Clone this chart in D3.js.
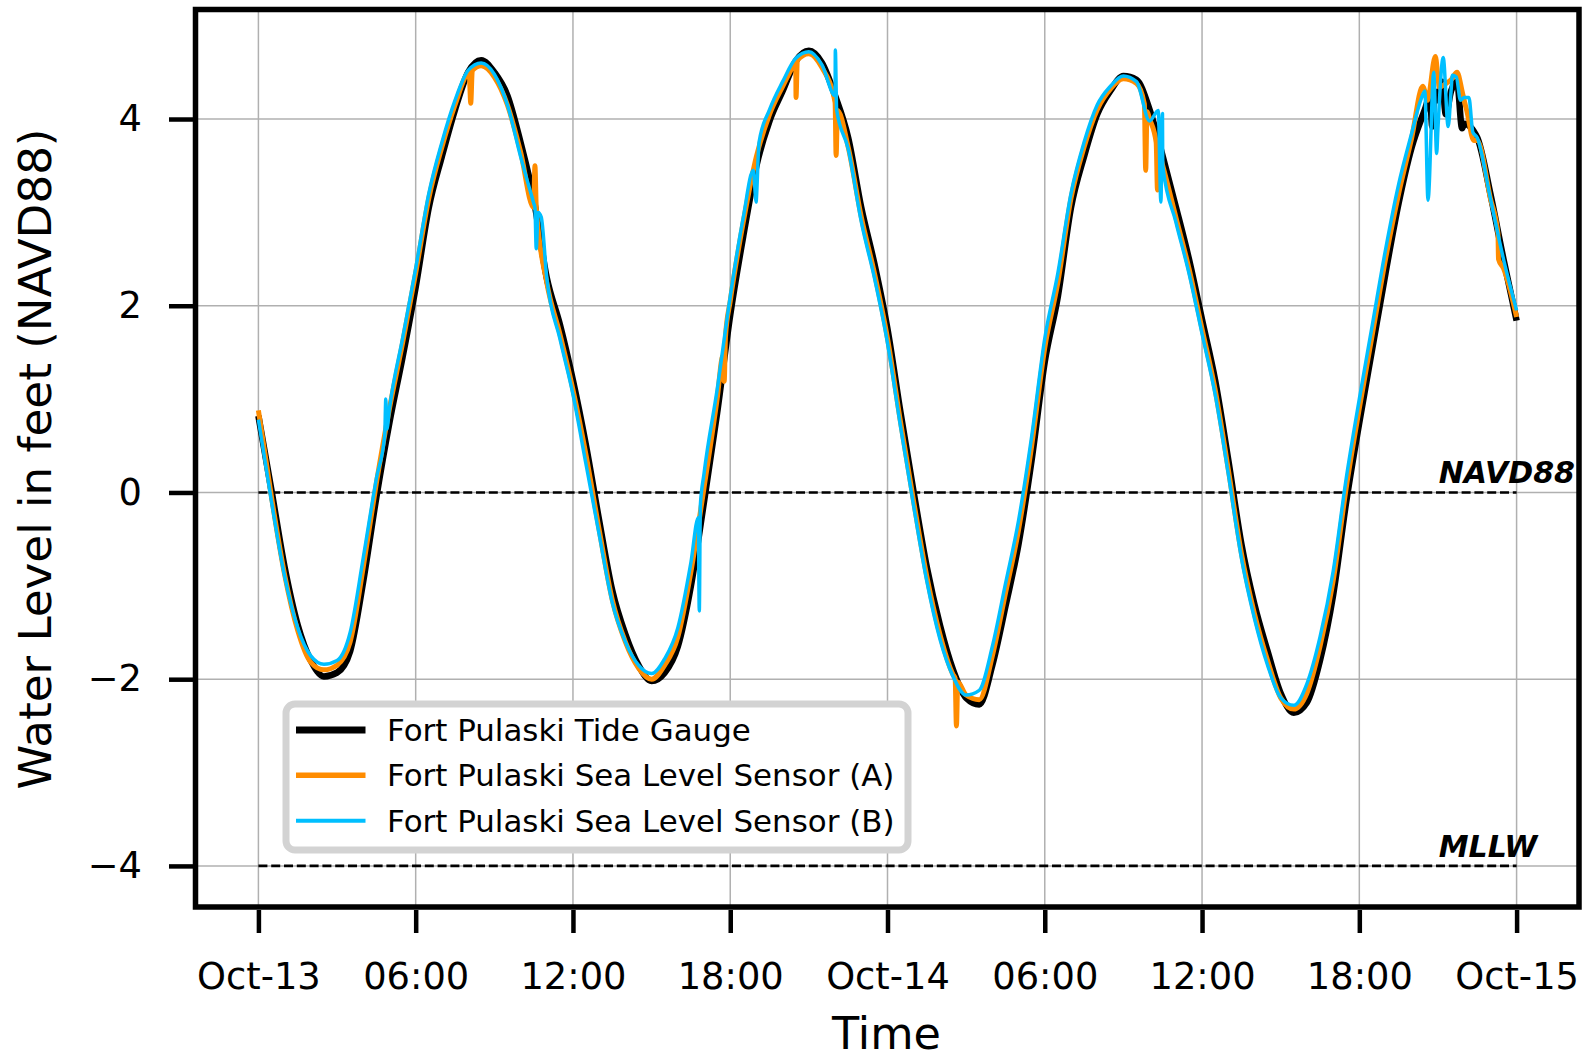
<!DOCTYPE html>
<html><head><meta charset="utf-8">
<script src="https://cdn.jsdelivr.net/npm/d3@7"></script>
<style>body{margin:0;background:#fff} svg{display:block} text{font-family:"DejaVu Sans",sans-serif}</style>
</head><body><svg id="c" width="1583" height="1061"></svg>
<script>
// hours since Oct-13 00:00
const hours = [0,0.5,1,1.5,2,2.5,3,3.5,4,4.5,5,5.5,6,6.5,7,7.5,8,8.5,9,9.5,10,10.5,11,11.5,12,12.5,13,13.5,14,14.5,15,15.5,16,16.5,17,17.5,18,18.5,19,19.5,20,20.5,21,21.5,22,22.5,23,23.5,24,24.5,25,25.5,26,26.5,27,27.5,28,28.5,29,29.5,30,30.5,31,31.5,32,32.5,33,33.5,34,34.5,35,35.5,36,36.5,37,37.5,38,38.5,39,39.5,40,40.5,41,41.5,42,42.5,43,43.5,44,44.5,45,45.5,46,46.5,47,47.5,48];
const gauge = [0.82,0.02,-0.8,-1.42,-1.8,-1.97,-1.93,-1.7,-0.95,-0.05,
 0.75,1.45,2.2,3.05,3.6,4.1,4.5,4.63,4.5,4.25,
 3.75,3.15,2.3,1.8,1.2,0.5,-0.3,-1.05,-1.52,-1.85,
 -2.02,-1.93,-1.65,-1.0,-0.1,0.85,1.9,2.75,3.5,3.98,
 4.3,4.62,4.73,4.6,4.25,3.8,3.05,2.45,1.75,0.85,
 0.0,-0.8,-1.42,-1.9,-2.2,-2.27,-1.85,-1.22,-0.55,0.35,
 1.4,2.1,3.05,3.6,4.05,4.3,4.46,4.42,4.1,3.6,
 3.06,2.5,1.85,1.2,0.35,-0.55,-1.2,-1.7,-2.15,-2.36,
 -2.25,-1.8,-1.1,-0.1,0.75,1.55,2.35,3.1,3.7,4.1,
 4.2,4.3,3.95,3.8,3.2,2.5,1.84];
const sensorA = [0.88,-0.05,-0.88,-1.48,-1.82,-1.9,-1.85,-1.6,-0.8,0.1,
 0.9,1.6,2.35,3.15,3.7,4.15,4.5,4.57,4.45,4.15,
 3.65,3.05,2.25,1.7,1.1,0.4,-0.4,-1.15,-1.6,-1.88,
 -2.0,-1.85,-1.55,-0.85,0.05,1.0,2.05,2.9,3.6,4.05,
 4.35,4.62,4.7,4.55,4.18,3.7,2.95,2.35,1.65,0.75,
 -0.1,-0.9,-1.52,-1.95,-2.17,-2.22,-1.75,-1.08,-0.4,0.5,
 1.55,2.25,3.15,3.7,4.1,4.32,4.43,4.38,4.0,3.5,
 2.95,2.4,1.75,1.1,0.25,-0.65,-1.3,-1.8,-2.2,-2.32,
 -2.15,-1.65,-0.95,0.05,0.9,1.7,2.5,3.2,3.8,4.3,
 4.45,4.42,4.2,3.77,3.15,2.4,1.88];
const sensorB = [0.78,-0.1,-0.9,-1.45,-1.75,-1.84,-1.8,-1.5,-0.7,0.15,
 0.9,1.65,2.4,3.2,3.75,4.2,4.52,4.6,4.48,4.15,
 3.6,3.1,2.3,1.65,1.05,0.3,-0.45,-1.18,-1.6,-1.85,
 -1.94,-1.78,-1.45,-0.75,0.2,1.1,2.1,2.95,3.15,4.1,
 4.4,4.65,4.72,4.58,4.25,3.68,2.9,2.3,1.6,0.7,
 -0.15,-0.95,-1.57,-1.97,-2.17,-2.12,-1.65,-0.98,-0.3,0.6,
 1.65,2.35,3.2,3.75,4.15,4.35,4.46,4.4,3.98,3.5,
 2.9,2.35,1.7,1.05,0.2,-0.7,-1.35,-1.85,-2.2,-2.28,
 -2.05,-1.55,-0.85,0.15,1.0,1.8,2.6,3.3,3.85,4.3,
 3.9,4.3,4.23,3.8,3.15,2.5,1.95];
// extra readings (spikes / noise) as [hour, value]
const gaugeExtra = [[44.7,4.25],[44.78,3.92],[44.86,4.3],[45.16,4.4],[45.3,4.05],[45.73,4.4],[45.92,3.9]];
const sensorAExtra = [[8.04,4.51],[8.1,4.17],[8.16,4.52],[10.55,3.5],[10.6,3.05],[17.72,1.46],[17.77,1.19],[17.82,1.67],[20.46,4.6],[20.51,4.23],[20.56,4.63],[22.04,3.61],[22.09,4.09],[26.58,-1.99],[26.63,-2.5],[26.68,-2.03],[33.8,4.16],[33.85,3.45],[33.9,4.08],[34.25,3.75],[34.3,3.24],[34.35,3.65],[44.42,4.35],[44.6,4.2],[44.9,4.67],[45.05,4.34],[45.3,4.38],[45.73,4.5],[45.92,4.3],[46.1,4.09],[46.37,3.77],[47.29,2.77],[47.31,2.5]];
const sensorBExtra = [[4.82,0.62],[4.86,1.0],[4.9,0.68],[10.55,3.05],[10.6,2.61],[10.67,3.0],[10.79,2.95],[16.78,-0.27],[16.82,-1.27],[16.86,-0.14],[18.88,3.45],[18.99,3.11],[19.1,3.75],[22.01,4.74],[22.06,4.1],[34.33,4.09],[34.43,3.11],[34.49,4.06],[44.34,4.2],[44.62,3.13],[44.84,4.5],[44.95,3.63],[45.2,4.66],[45.39,3.92],[45.55,4.47],[45.7,4.45],[45.86,4.2],[46.18,4.23],[46.33,3.86]];

const seriesNames = ["Fort Pulaski Tide Gauge","Fort Pulaski Sea Level Sensor (A)","Fort Pulaski Sea Level Sensor (B)"];
const seriesColors = ["#000000","#ff8c00","#00bfff"];
const seriesWidths = [6.5,5,3.5];
const xTicks = [0,6,12,18,24,30,36,42,48];
const xTickLabels = ["Oct-13","06:00","12:00","18:00","Oct-14","06:00","12:00","18:00","Oct-15"];
const yTicks = [-4,-2,0,2,4];
const refLevels = [0,-4];
const refLabels = ["NAVD88","MLLW"];

const svg = d3.select("#c");
const L=195.5, R=1579.5, T=9.5, B=907;
const x = d3.scaleLinear().domain([-2.4,50.4]).range([L,R]);
const y = d3.scaleLinear().domain([-4.44,5.173]).range([B,T]);

// grid
const grid = svg.append("g");
xTicks.forEach(t=>grid.append("line").attr("x1",x(t)).attr("x2",x(t)).attr("y1",T).attr("y2",B).attr("stroke","#b0b0b0").attr("stroke-width",1.5));
yTicks.forEach(v=>grid.append("line").attr("x1",L).attr("x2",R).attr("y1",y(v)).attr("y2",y(v)).attr("stroke","#b0b0b0").attr("stroke-width",1.5));

// reference dashed lines
refLevels.forEach((v,i)=>{
  svg.append("line").attr("x1",x(0)).attr("x2",x(48)).attr("y1",y(v)).attr("y2",y(v))
    .attr("stroke","#000").attr("stroke-width",2.6).attr("stroke-dasharray","9,3.8");
  svg.append("text").attr("x",x(45.03)).attr("y",y(v)-9).text(refLabels[i])
    .attr("font-size","30px").attr("font-weight","bold").attr("font-style","italic");
});

function merge(base, extra){
  return hours.map((h,i)=>[h,base[i]]).concat(extra).sort((a,b)=>a[0]-b[0]);
}
const data = [merge(gauge,gaugeExtra), merge(sensorA,sensorAExtra), merge(sensorB,sensorBExtra)];
const line = d3.line().x(d=>x(d[0])).y(d=>y(d[1])).curve(d3.curveMonotoneX);
data.forEach((d,i)=>{
  svg.append("path").attr("d",line(d)).attr("fill","none").attr("stroke",seriesColors[i])
    .attr("stroke-width",seriesWidths[i]).attr("stroke-linejoin","round");
});

// axes
const xAxis = svg.append("g").attr("transform",`translate(0,${B+3})`)
  .call(d3.axisBottom(x).tickValues(xTicks).tickSize(23).tickPadding(30).tickFormat((d,i)=>xTickLabels[i]));
const yAxis = svg.append("g").attr("transform",`translate(${L-2.5},0)`)
  .call(d3.axisLeft(y).tickValues(yTicks).tickSize(24).tickPadding(27).tickFormat(d=>d<0?"\u2212"+Math.abs(d):String(d)));
[xAxis,yAxis].forEach(a=>{
  a.select(".domain").remove();
  a.selectAll(".tick line").attr("stroke","#000").attr("stroke-width",4.5);
  a.selectAll(".tick text").attr("font-size","36.8px").attr("fill","#000").attr("font-family","DejaVu Sans");
});

// spines
svg.append("rect").attr("x",L).attr("y",T).attr("width",R-L-0.5).attr("height",B-T)
  .attr("fill","none").attr("stroke","#000").attr("stroke-width",5.5);

// axis labels
svg.append("text").attr("x",886.5).attr("y",1049).attr("text-anchor","middle").attr("font-size","44.5px").text("Time");
svg.append("text").attr("transform","translate(50.5,459) rotate(-90)").attr("text-anchor","middle").attr("font-size","45.2px").text("Water Level in feet (NAVD88)");

// legend
const lg = svg.append("g");
lg.append("rect").attr("x",286).attr("y",704).attr("width",622).attr("height",146).attr("rx",9)
  .attr("fill","#fff").attr("stroke","#d3d3d3").attr("stroke-width",7);
const rowY = [730,775.3,820.8];
seriesNames.forEach((n,i)=>{
  lg.append("line").attr("x1",296).attr("x2",365.5).attr("y1",rowY[i]).attr("y2",rowY[i])
    .attr("stroke",seriesColors[i]).attr("stroke-width",seriesWidths[i]+0.5);
  lg.append("text").attr("x",387).attr("y",rowY[i]+11).attr("font-size","30.9px").text(n);
});
</script></body></html>
